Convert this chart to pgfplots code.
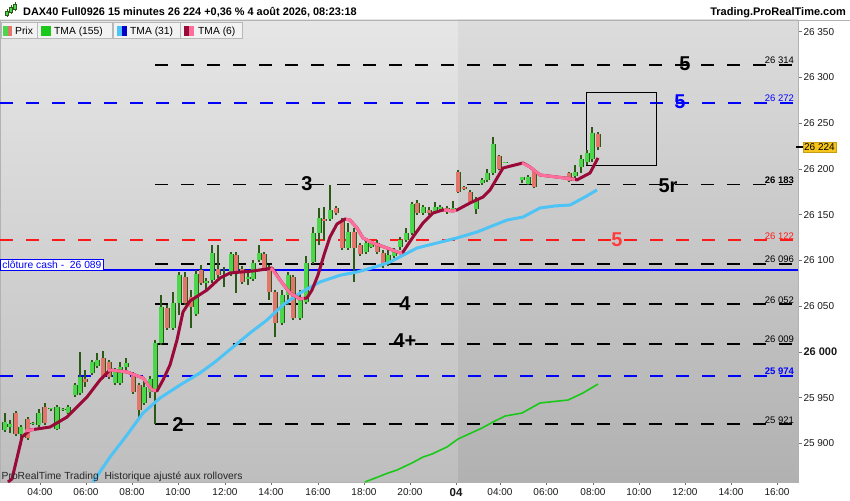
\documentclass[border=0pt]{standalone}
\usepackage{pgfplots}
\pgfplotsset{compat=1.18}
\usepackage{pgfplotstable}
\usepackage{fontspec}
\setmainfont{Liberation Sans}

\definecolor{wickc}{HTML}{2B5A17}
\definecolor{bullc}{HTML}{4CD64C}
\definecolor{bearc}{HTML}{E2766C}
\definecolor{tmaA}{HTML}{19C819}
\definecolor{tmaB}{HTML}{4DC3F6}
\definecolor{tmaD}{HTML}{990A38}
\definecolor{tmaP}{HTML}{FF6F9C}
\definecolor{lvlblue}{HTML}{0000FF}
\definecolor{lvlred}{HTML}{FF1A1A}
\definecolor{bgLT}{HTML}{E6E6E6}
\definecolor{bgLB}{HTML}{BEBEBE}
\definecolor{bgRT}{HTML}{DCDCDC}
\definecolor{bgRB}{HTML}{B1B1B1}
\definecolor{pricebox}{HTML}{F6C51B}

% wicks: low and high of every 15-minute candle (x = pixel column)
\pgfplotstableread[row sep=\\]{x y\\
5 25912.4\\5 25933.1\\5 nan\\10 25911.3\\10 25925.5\\10 nan\\16 25908.0\\16 25935.3\\16 nan\\
21 25898.1\\21 25920.0\\21 nan\\28 25903.6\\28 25928.8\\28 nan\\33 25920.0\\33 25923.3\\33 nan\\
39 25917.8\\39 25937.5\\39 nan\\45 25920.0\\45 25944.1\\45 nan\\51 25935.3\\51 25938.6\\51 nan\\
57 25914.5\\57 25941.9\\57 nan\\63 25935.3\\63 25938.6\\63 nan\\68 25932.0\\68 25941.9\\68 nan\\
75 25950.6\\75 25965.9\\75 nan\\80 25952.8\\80 25999.8\\80 nan\\85 25961.6\\85 25980.1\\85 nan\\
92 25974.7\\92 25991.1\\92 nan\\97 25982.3\\97 25998.7\\97 nan\\103 25970.3\\103 26000.9\\103 nan\\
109 25970.3\\109 25991.1\\109 nan\\115 25963.7\\115 25982.3\\115 nan\\120 25963.7\\120 25988.9\\120 nan\\
126 25980.1\\126 25993.3\\126 nan\\133 25953.9\\133 25978.0\\133 nan\\139 25928.8\\139 25965.9\\139 nan\\
144 25941.9\\144 25969.2\\144 nan\\150 25949.5\\150 25973.6\\150 nan\\155 25921.0\\155 26012.9\\155 nan\\
161 26007.5\\161 26062.1\\161 nan\\167 26023.9\\167 26051.2\\167 nan\\173 26023.9\\173 26065.4\\173 nan\\
179 26040.3\\179 26087.3\\179 nan\\185 26051.2\\185 26087.3\\185 nan\\191 26026.1\\191 26067.6\\191 nan\\
196 26039.2\\196 26089.5\\196 nan\\201 26073.1\\201 26094.9\\201 nan\\206 26067.6\\206 26080.7\\206 nan\\
212 26075.3\\212 26116.8\\212 nan\\218 26080.7\\218 26116.8\\218 nan\\224 26070.9\\224 26092.8\\224 nan\\
231 26082.9\\231 26109.2\\231 nan\\236 26064.3\\236 26109.2\\236 nan\\242 26074.2\\242 26093.8\\242 nan\\
248 26073.1\\248 26089.5\\248 nan\\253 26077.4\\253 26100.4\\253 nan\\259 26098.2\\259 26116.8\\259 nan\\
264 26089.5\\264 26109.2\\264 nan\\269 26056.7\\269 26094.9\\269 nan\\275 26016.2\\275 26067.6\\275 nan\\
282 26029.3\\282 26067.6\\282 nan\\288 26051.2\\288 26087.3\\288 nan\\293 26034.8\\293 26084.0\\293 nan\\
300 26034.8\\300 26067.6\\300 nan\\306 26052.3\\306 26104.8\\306 nan\\313 26096.0\\313 26136.5\\313 nan\\
319 26116.8\\319 26157.3\\319 nan\\324 26122.3\\324 26158.3\\324 nan\\330 26143.0\\330 26182.4\\330 nan\\
336 26149.6\\336 26159.4\\336 nan\\342 26111.3\\342 26146.3\\342 nan\\348 26111.3\\348 26140.9\\348 nan\\
354 26076.3\\354 26135.4\\354 nan\\360 26104.8\\360 26119.0\\360 nan\\366 26107.0\\366 26124.5\\366 nan\\
371 26113.5\\371 26122.3\\371 nan\\377 26107.0\\377 26122.3\\377 nan\\383 26091.7\\383 26111.3\\383 nan\\
388 26093.8\\388 26111.3\\388 nan\\394 26102.6\\394 26113.5\\394 nan\\400 26111.3\\400 26125.5\\400 nan\\
406 26120.1\\406 26135.4\\406 nan\\412 26127.7\\412 26163.8\\412 nan\\417 26149.6\\417 26166.0\\417 nan\\
423 26149.6\\423 26160.5\\423 nan\\429 26149.6\\429 26158.3\\429 nan\\435 26150.7\\435 26163.8\\435 nan\\
440 26152.9\\440 26160.5\\440 nan\\447 26150.7\\447 26159.4\\447 nan\\453 26152.9\\453 26164.9\\453 nan\\
458 26173.7\\458 26198.8\\458 nan\\464 26176.9\\464 26181.3\\464 nan\\470 26162.7\\470 26176.9\\470 nan\\
476 26150.7\\476 26169.3\\476 nan\\482 26182.4\\482 26190.1\\482 nan\\487 26185.7\\487 26199.9\\487 nan\\
493 26193.3\\493 26234.9\\493 nan\\499 26198.8\\499 26215.2\\499 nan\\505 26206.5\\505 26207.5\\505 nan\\
522 26184.6\\522 26191.1\\522 nan\\528 26182.4\\528 26193.3\\528 nan\\534 26179.1\\534 26198.8\\534 nan\\
569 26185.7\\569 26196.6\\569 nan\\575 26187.9\\575 26204.3\\575 nan\\581 26195.5\\581 26215.2\\581 nan\\
587 26204.3\\587 26220.7\\587 nan\\592 26207.5\\592 26245.8\\592 nan\\598 26220.7\\598 26240.3\\598 nan\\
}\wicks

% rising candles: open and close
\pgfplotstableread[row sep=\\]{x y\\
5 25914.5\\5 25923.3\\5 nan\\10 25917.8\\10 25921.1\\10 nan\\21 25910.2\\21 25917.8\\21 nan\\
33 25921.1\\33 25922.2\\33 nan\\39 25920.0\\39 25933.1\\39 nan\\51 25937.5\\51 25938.6\\51 nan\\
57 25915.6\\57 25939.7\\57 nan\\63 25936.4\\63 25937.5\\63 nan\\68 25933.1\\68 25939.7\\68 nan\\
75 25952.8\\75 25963.7\\75 nan\\80 25955.0\\80 25972.5\\80 nan\\92 25976.9\\92 25988.9\\92 nan\\
97 25984.5\\97 25991.1\\97 nan\\115 25965.9\\115 25978.0\\115 nan\\120 25965.9\\120 25983.4\\120 nan\\
126 25983.4\\126 25987.8\\126 nan\\144 25944.1\\144 25961.6\\144 nan\\150 25956.1\\150 25970.3\\150 nan\\
155 25956.1\\155 26009.7\\155 nan\\161 26009.7\\161 26049.0\\161 nan\\173 26026.1\\173 26053.4\\173 nan\\
179 26053.4\\179 26084.0\\179 nan\\196 26041.4\\196 26085.1\\196 nan\\206 26075.3\\206 26077.4\\206 nan\\
212 26078.5\\212 26108.1\\212 nan\\224 26082.9\\224 26084.0\\224 nan\\231 26086.2\\231 26107.0\\231 nan\\
248 26079.6\\248 26081.8\\248 nan\\253 26079.6\\253 26097.1\\253 nan\\259 26100.4\\259 26108.1\\259 nan\\
282 26031.5\\282 26062.1\\282 nan\\288 26062.1\\288 26084.0\\288 nan\\300 26037.0\\300 26056.7\\300 nan\\
306 26054.5\\306 26097.1\\306 nan\\313 26098.2\\313 26129.9\\313 nan\\319 26129.9\\319 26146.3\\319 nan\\
330 26145.2\\330 26155.1\\330 nan\\348 26113.5\\348 26131.0\\348 nan\\366 26109.2\\366 26119.0\\366 nan\\
371 26114.6\\371 26119.0\\371 nan\\388 26098.2\\388 26105.9\\388 nan\\394 26104.8\\394 26111.3\\394 nan\\
400 26114.6\\400 26122.3\\400 nan\\406 26122.3\\406 26129.9\\406 nan\\412 26129.9\\412 26161.6\\412 nan\\
423 26151.8\\423 26158.3\\423 nan\\435 26152.9\\435 26158.3\\435 nan\\440 26156.2\\440 26158.3\\440 nan\\
453 26154.0\\453 26157.3\\453 nan\\476 26156.2\\476 26167.1\\476 nan\\482 26184.6\\482 26187.9\\482 nan\\
487 26187.9\\487 26195.5\\487 nan\\493 26195.5\\493 26227.2\\493 nan\\505 26206.5\\505 26207.5\\505 nan\\
522 26187.9\\522 26191.1\\522 nan\\528 26183.5\\528 26191.1\\528 nan\\575 26192.2\\575 26196.6\\575 nan\\
581 26202.1\\581 26210.8\\581 nan\\587 26207.5\\587 26217.4\\587 nan\\592 26210.8\\592 26239.3\\592 nan\\
}\bull

% falling candles: open and close
\pgfplotstableread[row sep=\\]{x y\\
16 25933.1\\16 25910.2\\16 nan\\28 25926.6\\28 25905.8\\28 nan\\45 25939.7\\45 25922.2\\45 nan\\
85 25970.3\\85 25967.0\\85 nan\\103 25993.3\\103 25972.5\\103 nan\\109 25988.9\\109 25972.5\\109 nan\\
133 25974.7\\133 25956.1\\133 nan\\139 25963.7\\139 25936.4\\139 nan\\167 26047.9\\167 26026.1\\167 nan\\
185 26081.8\\185 26053.4\\185 nan\\191 26060.0\\191 26049.0\\191 nan\\201 26089.5\\201 26075.3\\201 nan\\
218 26090.6\\218 26084.0\\218 nan\\236 26105.9\\236 26086.2\\236 nan\\242 26090.6\\242 26076.3\\242 nan\\
264 26107.0\\264 26091.7\\264 nan\\269 26092.8\\269 26065.4\\269 nan\\275 26065.4\\275 26031.5\\275 nan\\
293 26081.8\\293 26037.0\\293 nan\\324 26145.2\\324 26143.0\\324 nan\\336 26157.3\\336 26151.8\\336 nan\\
342 26144.1\\342 26113.5\\342 nan\\354 26131.0\\354 26113.5\\354 nan\\360 26116.8\\360 26107.0\\360 nan\\
377 26119.0\\377 26109.2\\377 nan\\383 26108.1\\383 26096.0\\383 nan\\417 26162.7\\417 26151.8\\417 nan\\
429 26155.1\\429 26151.8\\429 nan\\447 26157.3\\447 26152.9\\447 nan\\458 26196.6\\458 26174.7\\458 nan\\
464 26180.2\\464 26178.0\\464 nan\\470 26174.7\\470 26163.8\\470 nan\\499 26214.1\\499 26199.9\\499 nan\\
534 26197.7\\534 26180.2\\534 nan\\569 26195.5\\569 26186.8\\569 nan\\598 26238.2\\598 26224.0\\598 nan\\
}\bear

\pgfplotstableread[row sep=\\]{x y\\
365 25857.7\\378 25863.2\\388 25867.5\\397 25870.8\\412 25878.5\\423 25885.0\\432 25888.3\\447 25896.0\\
458 25904.7\\482 25916.7\\493 25923.3\\505 25929.8\\522 25933.1\\540 25944.1\\568 25947.3\\583 25955.0\\598 25964.8\\
}\tmaslow

\pgfplotstableread[row sep=\\]{x y\\
93 25857.7\\110 25885.0\\127 25909.1\\143 25933.1\\160 25949.5\\180 25963.7\\200 25976.9\\215 25988.9\\
233 26005.3\\250 26020.6\\267 26034.8\\283 26051.3\\300 26064.3\\320 26076.4\\340 26083.7\\357 26087.3\\
375 26092.7\\390 26098.2\\417 26113.5\\437 26119.0\\457 26124.5\\477 26131.0\\507 26144.1\\523 26147.4\\
540 26157.3\\555 26159.5\\570 26160.5\\585 26169.3\\597 26177.0\\
}\tmamid

\pgfplotstableread[row sep=\\]{x y\\
8 25857.7\\12 25861.0\\22 25906.9\\30 25914.5\\50 25917.8\\67 25928.7\\87 25950.6\\100 25969.2\\
110 25980.2\\127 25978.0\\143 25971.4\\152 25958.3\\157 25957.2\\163 25969.2\\170 25985.6\\177 26013.0\\
183 26043.6\\190 26055.6\\207 26067.6\\220 26080.7\\230 26086.2\\253 26088.4\\267 26090.6\\272 26091.7\\
280 26078.6\\290 26064.3\\300 26057.8\\307 26058.9\\312 26067.6\\318 26084.0\\324 26105.9\\330 26125.6\\
337 26139.8\\345 26145.2\\350 26144.1\\357 26135.4\\363 26124.5\\373 26119.0\\387 26113.5\\400 26108.1\\
403 26109.2\\413 26125.6\\423 26140.9\\433 26151.8\\443 26155.1\\453 26154.0\\457 26155.1\\470 26162.7\\
483 26169.3\\490 26176.9\\503 26201.0\\523 26206.5\\530 26202.1\\540 26193.3\\557 26191.1\\573 26189.0\\
577 26188.0\\590 26195.5\\598 26212.0\\
}\tmafast

\begin{document}
\begin{tikzpicture}
\useasboundingbox (0pt,0pt) rectangle (850pt,500pt);
\fill[white] (0pt,0pt) rectangle (850pt,500pt);
% chart background (two sessions)
\shade[top color=bgLT, bottom color=bgLB] (0pt,18pt) rectangle (458pt,480pt);
\shade[top color=bgRT, bottom color=bgRB] (458pt,18pt) rectangle (798pt,480pt);
\begin{axis}[
  at={(0pt,18pt)}, anchor=south west,
  scale only axis, width=798pt, height=462pt,
  xmin=0, xmax=798, ymin=25857.7, ymax=26362.8,
  scaled y ticks=false, scaled x ticks=false,
  clip mode=individual,
  unbounded coords=jump,
  axis line style={draw=black!30, line width=0.8pt},
  tick align=outside, major tick length=3.5pt,
  xtick pos=lower, ytick pos=right, yticklabel pos=right,
  tick style={black!55, line width=0.6pt},
  xtick={40,86,132,178,225,271,318,364,410,456,500,546,593,639,685,731,777},
  xticklabels={04:00,06:00,08:00,10:00,12:00,14:00,16:00,18:00,20:00,{\bfseries\fontsize{11.5}{13}\selectfont 04},04:00,06:00,08:00,10:00,12:00,14:00,16:00},
  ytick={25900,25950,26000,26050,26100,26150,26200,26250,26300,26350},
  yticklabels={25 900,25 950,{\bfseries\fontsize{11}{12}\selectfont 26 000},26 050,26 100,26 150,26 200,26 250,26 300,26 350},
  ticklabel style={font=\fontsize{10}{12}\selectfont, text=black!90},
  yticklabel style={xshift=-1.5pt},
  xticklabel style={yshift=1pt},
]
% levels
\addplot[black, line width=1.8pt, dash pattern=on 13pt off 13pt] coordinates {(155,26314) (798,26314)};
\addplot[lvlblue, line width=1.8pt, dash pattern=on 13pt off 13pt] coordinates {(0,26272) (798,26272)};
\addplot[black, line width=1.8pt, dash pattern=on 13pt off 13pt] coordinates {(155,26183) (798,26183)};
\addplot[lvlred, line width=1.8pt, dash pattern=on 13pt off 13pt] coordinates {(0,26122) (798,26122)};
\addplot[black, line width=1.8pt, dash pattern=on 13pt off 13pt] coordinates {(155,26096) (798,26096)};
\addplot[lvlblue, line width=2pt] coordinates {(0,26089) (798,26089)};
\addplot[black, line width=1.8pt, dash pattern=on 13pt off 13pt] coordinates {(155,26052) (798,26052)};
\addplot[black, line width=1.8pt, dash pattern=on 13pt off 13pt] coordinates {(155,26009) (798,26009)};
\addplot[lvlblue, line width=1.8pt, dash pattern=on 13pt off 13pt] coordinates {(0,25974) (798,25974)};
\addplot[black, line width=1.8pt, dash pattern=on 13pt off 13pt] coordinates {(155,25921) (798,25921)};

% user rectangle
\addplot[black, line width=0.9pt] coordinates {(586,26204.3) (586,26284.1) (656,26284.1) (656,26204.3) (586,26204.3)};

% candles
\addplot[wickc, line width=1.1pt, line cap=butt] table[x=x, y=y] {\wicks};
\addplot[wickc, line width=5pt, line cap=butt] table[x=x, y=y] {\bull};
\addplot[wickc, line width=5pt, line cap=butt] table[x=x, y=y] {\bear};
\addplot[bullc, line width=3.2pt, line cap=butt] table[x=x, y=y] {\bull};
\addplot[bearc, line width=3.2pt, line cap=butt] table[x=x, y=y] {\bear};

% moving averages
\addplot[tmaA, line width=1.6pt, line join=round] table[x=x, y=y] {\tmaslow};
\addplot[tmaB, line width=3pt, line join=round] table[x=x, y=y] {\tmamid};
\addplot[tmaD, line width=3pt, line join=round] table[x=x, y=y] {\tmafast};
\addplot[tmaP, line width=3pt, line join=round] coordinates {(25,25913.4) (34,25915.1)};
\addplot[tmaP, line width=3pt, line join=round] coordinates {(108,25979.6) (110,25980.2) (127,25978.0) (143,25971.4) (152,25958.3) (156,25957.4)};
\addplot[tmaP, line width=3pt, line join=round] coordinates {(271,26091.9) (280,26078.6) (290,26064.3) (300,26057.8) (304,26058.3)};
\addplot[tmaP, line width=3pt, line join=round] coordinates {(346,26145.0) (350,26144.1) (357,26135.4) (363,26124.5) (373,26119.0) (387,26113.5) (400,26108.1) (402,26108.8)};
\addplot[tmaP, line width=3pt, line join=round] coordinates {(444,26155.0) (453,26154.0) (456,26154.8)};
\addplot[tmaP, line width=3pt, line join=round] coordinates {(522,26206.4) (530,26202.1) (540,26193.3) (557,26191.1) (575,26188.5)};

% level labels (right)
\node[anchor=south east, inner sep=0.8pt, font=\fontsize{9.5}{11}\selectfont, text=black] at (axis cs:795,26314) {26 314};
\node[anchor=south east, inner sep=0.8pt, font=\fontsize{9.5}{11}\selectfont, text=lvlblue] at (axis cs:795,26272) {26 272};
\node[anchor=south east, inner sep=0.8pt, font=\bfseries\fontsize{9.5}{11}\selectfont, text=black] at (axis cs:795,26183) {26 183};
\node[anchor=south east, inner sep=0.8pt, font=\fontsize{9.5}{11}\selectfont, text=lvlred] at (axis cs:795,26122) {26 122};
\node[anchor=south east, inner sep=0.8pt, font=\fontsize{9.5}{11}\selectfont, text=black] at (axis cs:795,26096) {26 096};
\node[anchor=south east, inner sep=0.8pt, font=\fontsize{9.5}{11}\selectfont, text=black] at (axis cs:795,26052) {26 052};
\node[anchor=south east, inner sep=0.8pt, font=\fontsize{9.5}{11}\selectfont, text=black] at (axis cs:795,26009) {26 009};
\node[anchor=south east, inner sep=0.8pt, font=\bfseries\fontsize{9.5}{11}\selectfont, text=lvlblue] at (axis cs:795,25974) {25 974};
\node[anchor=south east, inner sep=0.8pt, font=\fontsize{9.5}{11}\selectfont, text=black] at (axis cs:795,25921) {25 921};

% big level marks
\node[inner sep=0pt, font=\bfseries\fontsize{20}{20}\selectfont, text=black] at (axis cs:685,26315) {5};
\node[inner sep=0pt, font=\bfseries\fontsize{20}{20}\selectfont, text=lvlblue] at (axis cs:680,26273) {5};
\node[inner sep=0pt, font=\bfseries\fontsize{20}{20}\selectfont, text=black] at (axis cs:307,26184) {3};
\node[inner sep=0pt, font=\bfseries\fontsize{20}{20}\selectfont, text=black] at (axis cs:668,26182) {5r};
\node[inner sep=0pt, font=\bfseries\fontsize{20}{20}\selectfont, text=lvlred!85] at (axis cs:617,26123) {5};
\node[inner sep=0pt, font=\bfseries\fontsize{20}{20}\selectfont, text=black] at (axis cs:405,26053) {4};
\node[inner sep=0pt, font=\bfseries\fontsize{20}{20}\selectfont, text=black] at (axis cs:405,26012) {4+};
\node[inner sep=0pt, font=\bfseries\fontsize{20}{20}\selectfont, text=black] at (axis cs:178,25920) {2};

% cash close box
\node[anchor=south west, draw=lvlblue, fill=white, text=lvlblue, inner sep=1.5pt, line width=0.8pt,
  font=\fontsize{10.3}{12}\selectfont] at (axis cs:0.5,26089) {clôture cash -~~26 089};

% current price
\node[anchor=west, fill=pricebox, draw=pricebox!80!black, inner sep=1.4pt, line width=0.5pt,
  font=\fontsize{10}{12}\selectfont, xshift=4.5pt] at (axis cs:798,26224) {26 224};
\end{axis}
\draw[black, line width=1.3pt] (796pt,353pt) -- (803pt,353pt);

% header
\draw[black!30, line width=0.8pt] (0pt,480pt) -- (850pt,480pt);
\node[anchor=base west, inner sep=0pt, font=\bfseries\fontsize{10.9}{12}\selectfont] at (23pt,484.5pt)
  {DAX40 Full0926 15 minutes 26 224 +0,36 \% 4 août 2026, 08:23:18};
\node[anchor=base east, inner sep=0pt, font=\bfseries\fontsize{11}{12}\selectfont] at (846pt,484.5pt)
  {Trading.ProRealTime.com};
% small candle icon
\draw[wickc, line width=0.6pt] (7pt,483pt) -- (7pt,491pt) (11pt,486pt) -- (11pt,495pt) (15pt,489pt) -- (15pt,498pt);
\filldraw[fill=bullc, draw=wickc, line width=0.4pt] (5.5pt,484.5pt) rectangle (8.5pt,489pt);
\filldraw[fill=bullc, draw=wickc, line width=0.4pt] (9.5pt,487.5pt) rectangle (12.5pt,493pt);
\filldraw[fill=bullc, draw=wickc, line width=0.4pt] (13.5pt,490.5pt) rectangle (16.5pt,496pt);

% legend row
\filldraw[fill=black!5, draw=black!28, line width=0.6pt] (1pt,462pt) rectangle (37pt,478pt);
\fill[bullc] (3pt,464pt) rectangle (7.5pt,474pt);
\fill[bearc] (7.5pt,464pt) rectangle (12pt,474pt);
\node[anchor=base west, inner sep=0pt, font=\fontsize{10.3}{12}\selectfont] at (15pt,465.5pt) {Prix};
\filldraw[fill=black!5, draw=black!28, line width=0.6pt] (37.5pt,462pt) rectangle (112.5pt,478pt);
\fill[tmaA] (41pt,464pt) rectangle (51pt,474pt);
\node[anchor=base west, inner sep=0pt, font=\fontsize{10.3}{12}\selectfont] at (54pt,465.5pt) {TMA (155)};
\filldraw[fill=black!5, draw=black!28, line width=0.6pt] (113pt,462pt) rectangle (180pt,478pt);
\fill[tmaB] (117pt,464pt) rectangle (122pt,474pt);
\fill[lvlblue!80!black] (122pt,464pt) rectangle (127pt,474pt);
\node[anchor=base west, inner sep=0pt, font=\fontsize{10.3}{12}\selectfont] at (130pt,465.5pt) {TMA (31)};
\filldraw[fill=black!5, draw=black!28, line width=0.6pt] (180.5pt,462pt) rectangle (242pt,478pt);
\fill[tmaD] (184pt,464pt) rectangle (189pt,474pt);
\fill[tmaP] (189pt,464pt) rectangle (194pt,474pt);
\node[anchor=base west, inner sep=0pt, font=\fontsize{10.3}{12}\selectfont] at (198pt,465.5pt) {TMA (6)};

% footer note
\node[anchor=base west, inner sep=0pt, font=\fontsize{10.3}{12}\selectfont, text=black!85] at (1.5pt,20.5pt)
  {ProRealTime Trading\ \ Historique ajusté aux rollovers};
\end{tikzpicture}
\end{document}
